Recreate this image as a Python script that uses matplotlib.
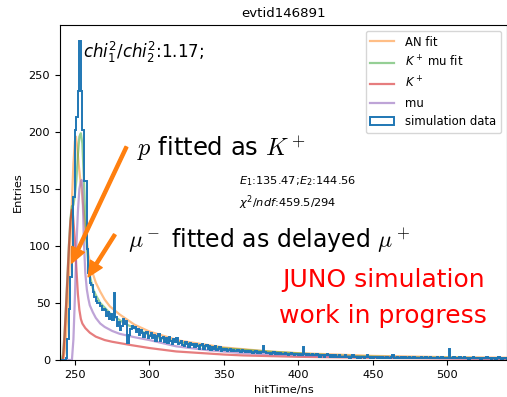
import matplotlib
matplotlib.use("Agg")
import matplotlib.pyplot as plt
import numpy as np


# hit time histogram, 1 ns bins from 240 to 540 ns
bin_edges = np.arange(240, 541, 1)
counts = [
    0, 0, 0, 0, 2, 18, 45, 73, 99, 143,
    202, 213, 236, 280, 236, 202, 157, 157, 97, 76,
    68, 66, 60, 55, 52, 50, 50, 47, 44, 45,
    44, 39, 42, 36, 40, 35, 59, 38, 30, 33,
    26, 30, 36, 32, 34, 15, 22, 27, 30, 28,
    29, 25, 27, 22, 26, 24, 20, 24, 25, 19,
    21, 24, 19, 22, 17, 21, 23, 17, 19, 20,
    16, 19, 15, 20, 17, 14, 18, 16, 19, 14,
    15, 17, 13, 12, 16, 14, 11, 15, 13, 14,
    11, 14, 12, 10, 13, 14, 10, 12, 13, 10,
    12, 9, 11, 10, 12, 9, 10, 11, 8, 10,
    9, 10, 8, 9, 10, 8, 9, 8, 8, 9,
    8, 7, 9, 8, 7, 8, 7, 8, 7, 6,
    7, 8, 6, 7, 6, 7, 12, 7, 6, 6,
    6, 5, 6, 7, 5, 6, 5, 6, 5, 5,
    5, 6, 5, 4, 5, 6, 5, 4, 5, 5,
    4, 5, 4, 11, 5, 4, 5, 4, 4, 5,
    4, 4, 5, 4, 3, 4, 4, 3, 4, 5,
    4, 3, 4, 3, 4, 3, 3, 4, 3, 3,
    3, 4, 3, 3, 2, 3, 4, 3, 3, 2,
    3, 2, 3, 3, 2, 3, 4, 3, 2, 3,
    2, 3, 3, 2, 3, 2, 3, 2, 2, 3,
    2, 2, 3, 4, 2, 2, 3, 2, 2, 3,
    2, 3, 2, 2, 3, 2, 2, 3, 2, 2,
    2, 2, 3, 2, 2, 3, 2, 2, 3, 2,
    2, 2, 2, 3, 2, 2, 3, 2, 2, 2,
    2, 10, 2, 2, 3, 2, 2, 2, 3, 2,
    2, 3, 2, 2, 1, 2, 2, 3, 2, 2,
    2, 2, 1, 2, 2, 2, 3, 2, 2, 1,
    2, 2, 1, 2, 3, 2, 1, 2, 2, 2,
]

# fitted curves
an_t = [240, 242, 243, 244, 245, 246, 247, 248, 249, 250, 250.7, 251.5, 252.5,
        253.5, 254.5, 255.5, 256.5, 258, 259, 260, 262, 264, 267, 270, 273.5,
        280, 290, 300, 320, 350, 380, 400, 450, 500, 540]
an_fit = [0, 0, 6, 20, 42, 70, 105, 140, 172, 192, 196, 188, 172,
          160, 150, 136, 122, 104, 93, 86, 76, 68, 60, 53, 47,
          40, 31, 25, 17, 11, 7.5, 6, 3.6, 2.5, 2]

kmu_t = [240, 241, 242, 243, 244, 245, 246, 247, 248, 249, 250, 251, 252, 253,
         254, 255, 256, 257, 258, 259, 260, 262, 264, 267, 270, 273.5, 280,
         285, 290, 300, 310, 320, 335, 350, 365, 380, 400, 420, 434, 450, 475,
         500, 540]
kmu_fit = [0, 0, 5, 22, 47, 74, 101, 124, 135, 136, 145, 158, 180, 196,
           199, 190, 160, 125, 100, 84, 74, 63, 57, 50, 46, 41, 35,
           31, 28, 22, 18.5, 15.5, 12.5, 10.3, 8.8, 7.4, 5.8, 4.4, 3.6, 3, 2.4,
           2, 1.5]

kaon_t = [240, 242, 243, 244, 245, 246, 247, 248, 248.5, 249, 250, 251, 252,
          253, 254, 255, 257, 260, 264, 270, 275, 288, 300, 318, 350, 363, 400,
          450, 500, 540]
kaon = [0, 0, 20, 45, 72, 100, 122, 132, 130, 122, 105, 80, 58,
        44, 36, 32, 28, 24, 20.5, 17.5, 16, 13, 10.5, 7.5, 4.8, 4, 2.8,
        1.9, 1.4, 1.1]

mu_t = [240, 248, 249, 250, 251, 252, 253, 254, 254.5, 255, 255.5, 256, 257,
        258, 259, 260, 262, 264, 267, 270, 275, 280, 290, 300, 318, 340, 363,
        400, 450, 500, 540]
mu = [0, 0, 18, 55, 100, 130, 150, 157, 158, 152, 130, 105, 76,
      62, 54, 48, 42, 37, 32, 29, 25.5, 23, 20, 17.5, 12, 8.5, 6,
      4, 2.5, 1.6, 1.1]

fig = plt.figure(figsize=(5.07, 3.97), dpi=100)
ax = fig.add_axes([60 / 507, 37 / 397, 447 / 507, 335 / 397])

ax.plot(an_t, an_fit, color="tab:orange", alpha=0.5, lw=1.6, label="AN fit")
ax.plot(kmu_t, kmu_fit, color="tab:green", alpha=0.5, lw=1.6, label="$K^+$ mu fit")
ax.plot(kaon_t, kaon, color="tab:red", alpha=0.6, lw=1.6, label="$K^+$")
ax.plot(mu_t, mu, color="tab:purple", alpha=0.6, lw=1.6, label="mu")
centers = bin_edges[:-1] + 0.5
ax.hist(centers, bins=bin_edges, weights=counts, histtype="step",
        color="tab:blue", lw=1.4, label="simulation data")

ax.set_xlim(240, 540)
ax.set_ylim(0, 294)
ax.set_xticks([250, 300, 350, 400, 450, 500])
ax.set_yticks([0, 50, 100, 150, 200, 250])
ax.tick_params(labelsize=8.2)
ax.set_xlabel("hitTime/ns", fontsize=8.2)
ax.set_ylabel("Entries", fontsize=8.2)
ax.set_title("evtid146891", fontsize=9.6)

ax.legend(loc="upper right", fontsize=8.4, handletextpad=1.0)

ax.text(255.2, 265, r"$chi_1^2/chi_2^2$:1.17;", fontsize=12)
ax.text(360, 163, "$E_1$:135.47;$E_2$:144.56\n$\\chi^2/ndf$:459.5/294",
        fontsize=8.2, va="top", linespacing=1.4)

ax.text(292, 178, r"$p$ fitted as $K^+$", fontsize=17.5, math_fontfamily="cm")
ax.text(285.5, 98, r"$\mu^-$ fitted as delayed $\mu^+$", fontsize=17,
        math_fontfamily="cm")

arrow = dict(color="#ff7f0e", width=2.2, headwidth=10, headlength=11, shrink=0)
ax.annotate("", xy=(247.8, 85), xytext=(284.6, 187), arrowprops=arrow)
ax.annotate("", xy=(258.9, 73), xytext=(276.8, 110), arrowprops=arrow)

ax.text(457, 64.4, "JUNO simulation", color="red", fontsize=18, ha="center")
ax.text(457, 32.2, "work in progress", color="red", fontsize=18, ha="center")

fig.savefig("out.png", dpi=100)
